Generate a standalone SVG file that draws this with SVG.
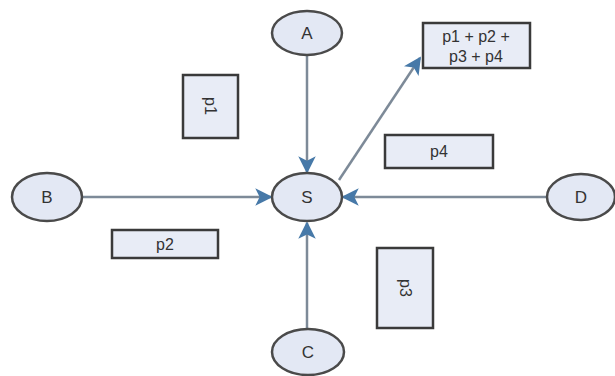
<svg xmlns="http://www.w3.org/2000/svg" width="615" height="376" viewBox="0 0 615 376">
<style>
.node ellipse{fill:#e3e8f4;stroke:#4a4a4a;stroke-width:2.5}
.box rect{fill:#e8ecf6;stroke:#3a3a3a;stroke-width:2.5}
text{font-family:"Liberation Sans",Arial,sans-serif;font-size:16px;fill:#333;text-anchor:middle;dominant-baseline:central}
.node text{font-size:17px}
.edge{stroke:#7d8a98;stroke-width:2.5;fill:none}
</style>
<defs>
<marker id="ah" viewBox="0 0 10 10" refX="9" refY="5" markerWidth="7" markerHeight="7" markerUnits="strokeWidth" orient="auto">
<path d="M0,0 L10,5 L0,10 L2.5,5 z" fill="#4779a8"/>
</marker>
</defs>
<rect width="615" height="376" fill="#ffffff"/>
<g id="connectors">
<line class="edge" x1="307" y1="55" x2="307" y2="172" marker-end="url(#ah)"/>
<line class="edge" x1="82" y1="197" x2="271" y2="197" marker-end="url(#ah)"/>
<line class="edge" x1="547" y1="197" x2="343" y2="197" marker-end="url(#ah)"/>
<line class="edge" x1="307" y1="329" x2="307" y2="223" marker-end="url(#ah)"/>
<line class="edge" x1="339" y1="180" x2="420" y2="58" marker-end="url(#ah)"/>
</g>
<g id="A" class="node"><ellipse cx="307" cy="33" rx="35" ry="22"/><text x="307" y="33">A</text></g>
<g id="S" class="node"><ellipse cx="307" cy="197" rx="35" ry="24"/><text x="307" y="197">S</text></g>
<g id="B" class="node"><ellipse cx="47" cy="197" rx="35" ry="24"/><text x="47" y="197">B</text></g>
<g id="D" class="node"><ellipse cx="581" cy="197" rx="34" ry="23"/><text x="581" y="197">D</text></g>
<g id="C" class="node"><ellipse cx="308" cy="352" rx="36" ry="23"/><text x="308" y="352">C</text></g>
<g id="sum" class="box"><rect x="423" y="23" width="107" height="45"/><text x="476" y="36">p1 + p2 +</text><text x="476" y="56">p3 + p4</text></g>
<g id="p1" class="box"><rect x="183" y="75" width="55" height="63"/><text x="210" y="106" transform="rotate(90 210 106)">p1</text></g>
<g id="p2" class="box"><rect x="112" y="230" width="106" height="28"/><text x="165" y="244">p2</text></g>
<g id="p4" class="box"><rect x="385" y="135" width="108" height="33"/><text x="439" y="151">p4</text></g>
<g id="p3" class="box"><rect x="377" y="248" width="56" height="80"/><text x="405" y="288" transform="rotate(90 405 288)">p3</text></g>
</svg>
